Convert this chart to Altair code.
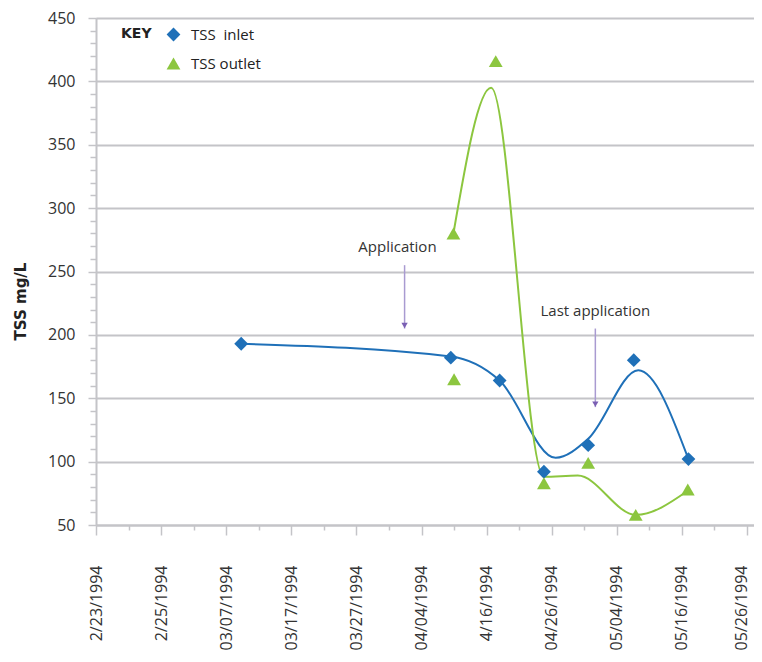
import json
import altair as alt
import pandas as pd

# ---------------- data ----------------
x_labels = ["2/23/1994", "2/25/1994", "03/07/1994", "03/17/1994", "03/27/1994",
            "04/04/1994", "4/16/1994", "04/26/1994", "05/04/1994", "05/16/1994",
            "05/26/1994"]

series_names = ["TSS\u00a0 inlet", "TSS outlet"]

# markers (x in axis-slot units)
inlet_x = [2.23, 5.45, 6.20, 6.88, 7.56, 8.26, 9.10]
inlet_y = [193, 182, 164, 92, 113, 180, 102]
outlet_x = [5.49, 5.50, 6.14, 6.88, 7.56, 8.29, 9.09]
outlet_y = [280, 165, 416, 83, 99, 58, 78]

# smoothed curves
inlet_curve_x = [2.23, 5.45, 6.20, 7.06, 7.56, 8.33, 9.10]
inlet_curve_y = [193, 183, 164, 103, 118, 172, 102]
outlet_curve_x = [5.49, 6.07, 6.88, 7.40, 8.29, 9.09]
outlet_curve_y = [280, 395, 88, 89, 58, 77]

# annotations
ann_text = ["Application", "Last application"]
ann_text_x = [4.63, 7.67]
ann_text_y = [269, 219]
arrow_x = [4.74, 7.67]
arrow_top = [255, 205]
arrow_bottom = [205, 143]

BLUE = "#1f70b8"
GREEN = "#8cc63f"
GRID = "#c4c4c8"
FONT = "Open Sans"
BOLD_FONT = "DejaVu Sans"

# ---------------- scales / axes ----------------
xscale = alt.Scale(domain=[0, 10.107], nice=False, zero=False)
yscale = alt.Scale(domain=[50, 450], nice=False, zero=False)

x_vals = [i * 0.5 for i in range(21)]
y_vals = list(range(50, 451, 10))

xaxis = alt.Axis(
    values=x_vals,
    title=None,
    grid=False,
    labelExpr=f"datum.value % 1 === 0 ? {json.dumps(x_labels)}[datum.value] : ''",
    labelAngle=270,
    labelAlign="right",
    labelBaseline="middle",
    labelPadding=30,
    labelOffset={"condition": {"test": "datum.value >= 10", "value": -6}, "value": 0},
    labelOverlap=False,
    labelFlush=False,
    labelFont=FONT,
    labelFontSize=16,
    labelColor="#333333",
    tickColor=GRID,
    tickWidth=1.5,
    tickSize={"condition": {"test": "datum.value % 1 === 0", "value": 10}, "value": 5},
    domainColor=GRID,
    domainWidth=2,
)

yaxis = alt.Axis(
    values=y_vals,
    title="TSS mg/L",
    titleFont=BOLD_FONT,
    titleFontSize=15,
    titleFontWeight="bold",
    titleColor="#222222",
    titleAngle=270,
    titleX=-76,
    titleY=283,
    titleAlign="center",
    titleBaseline="middle",
    labelExpr="datum.value % 50 === 0 ? datum.label : ''",
    labelOverlap=False,
    labelFlush=False,
    labelFont=FONT,
    labelFontSize=16,
    labelColor="#333333",
    labelPadding=13,
    grid=True,
    gridColor=GRID,
    gridWidth=2,
    gridOpacity={"condition": {"test": "datum.value % 50 === 0", "value": 1}, "value": 0},
    tickColor=GRID,
    tickWidth=1.5,
    tickSize={"condition": {"test": "datum.value % 50 === 0", "value": 8}, "value": 6},
    domainColor=GRID,
    domainWidth=2,
)

xenc = alt.X("x:Q", scale=xscale, axis=xaxis)
yenc = alt.Y("y:Q", scale=yscale, axis=yaxis)

# ---------------- layers ----------------
inlet_line = alt.Chart(pd.DataFrame({"x": inlet_curve_x, "y": inlet_curve_y})).mark_line(
    interpolate="monotone", color=BLUE, strokeWidth=2
).encode(x=xenc, y=yenc)

outlet_line = alt.Chart(pd.DataFrame({"x": outlet_curve_x, "y": outlet_curve_y})).mark_line(
    interpolate="monotone", color=GREEN, strokeWidth=2
).encode(x=xenc, y=yenc)

pts_df = pd.DataFrame({
    "x": inlet_x + outlet_x,
    "y": inlet_y + outlet_y,
    "series": [series_names[0]] * len(inlet_x) + [series_names[1]] * len(outlet_x),
})

legend = alt.Legend(
    title="KEY",
    orient="none",
    legendX=25,
    legendY=9,
    titleOrient="left",
    titleAnchor="start",
    titleBaseline="top",
    titleFont=BOLD_FONT,
    titleFontSize=14,
    titleFontWeight="bold",
    titleColor="#222222",
    titlePadding=14,
    labelFont=FONT,
    labelFontSize=15,
    labelColor="#222222",
    labelOffset=10,
    rowPadding=13,
    symbolSize=190,
    symbolStrokeWidth=0,
)

points = alt.Chart(pts_df).mark_point(filled=True, opacity=1, size=190).encode(
    x=xenc,
    y=yenc,
    color=alt.Color("series:N", scale=alt.Scale(domain=series_names, range=[BLUE, GREEN]), legend=legend),
    shape=alt.Shape("series:N", scale=alt.Scale(domain=series_names, range=["diamond", "triangle-up"]), legend=legend),
)

ann_df = pd.DataFrame({"x": ann_text_x, "y": ann_text_y, "t": ann_text})
ann_txt = alt.Chart(ann_df).mark_text(font=FONT, fontSize=15, color="#333333").encode(
    x=xenc, y=yenc, text="t:N"
)

arrow_df = pd.DataFrame({"x": arrow_x, "y": arrow_top, "y2": arrow_bottom})
arrow_rule = alt.Chart(arrow_df).mark_rule(color="#a99bd1", strokeWidth=1.5).encode(
    x=xenc, y=yenc, y2="y2:Q"
)
arrow_head = alt.Chart(arrow_df).mark_point(
    shape="triangle-down", filled=True, opacity=1, color="#7a5fb3", size=40, yOffset=-3
).encode(x=xenc, y=alt.Y("y2:Q", scale=yscale, axis=yaxis))

chart = alt.layer(
    inlet_line, outlet_line, arrow_rule, arrow_head, ann_txt, points
).properties(
    width=658,
    height=507,
    autosize="none",
    padding={"left": 88, "top": 10, "right": 0, "bottom": 126},
).configure_view(
    fill="#f6f5fa", strokeWidth=0
).configure(background="white")

chart.save("out.html", embed_options={"renderer": "svg", "actions": False})
